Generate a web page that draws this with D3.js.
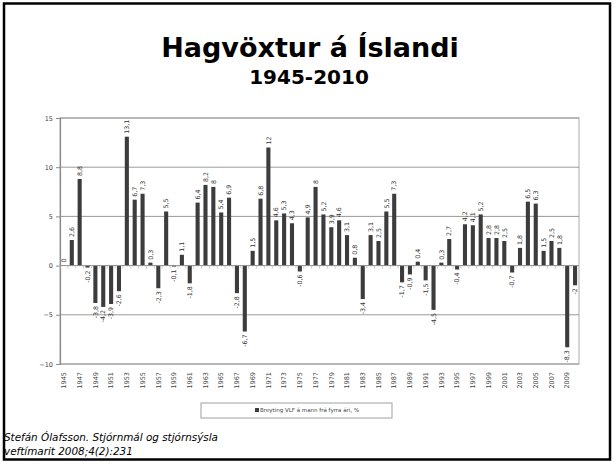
<!DOCTYPE html>
<html>
<head>
<meta charset="utf-8">
<script src="https://cdn.jsdelivr.net/npm/d3@7"></script>
<style>
  body { margin: 0; background: #fff; }
  svg { display: block; }
</style>
</head>
<body>
<svg id="chart" width="614" height="462"></svg>
<script>
const years = d3.range(1945, 2011);
const growth = [
  0, 2.6, 8.8, -0.2, -3.8, -4.2, -3.9, -2.6, 13.1, 6.7,
  7.3, 0.3, -2.3, 5.5, -0.1, 1.1, -1.8, 6.4, 8.2, 8,
  5.4, 6.9, -2.8, -6.7, 1.5, 6.8, 12, 4.6, 5.3, 4.3,
  -0.6, 4.9, 8, 5.2, 3.9, 4.6, 3.1, 0.8, -3.4, 3.1,
  2.5, 5.5, 7.3, -1.7, -0.9, 0.4, -1.5, -4.5, 0.3, 2.7,
  -0.4, 4.2, 4.1, 5.2, 2.8, 2.8, 2.5, -0.7, 1.8, 6.5,
  6.3, 1.5, 2.5, 1.8, -8.3, -2
];
const yTicks = [-10, -5, 0, 5, 10, 15];
const xTickYears = d3.range(1945, 2010, 2);
const title = "Hagvöxtur á Íslandi";
const subtitle = "1945-2010";
const legendText = "Breyting VLF á mann frá fyrra ári, %";
const sourceLines = ["Stefán Ólafsson. Stjórnmál og stjórnsýsla", "veftímarit 2008;4(2):231"];

const svg = d3.select("#chart");

// slide frame
svg.append("rect")
  .attr("x", 4).attr("y", 3.5)
  .attr("width", 606).attr("height", 456)
  .attr("fill", "none")
  .attr("stroke", "#000")
  .attr("stroke-width", 2.5);

svg.append("text")
  .attr("x", 310).attr("y", 57)
  .attr("text-anchor", "middle")
  .style("font-family", "DejaVu Sans")
  .style("font-weight", "bold")
  .style("font-size", "27px")
  .style("fill", "#000")
  .text(title);

svg.append("text")
  .attr("x", 309).attr("y", 84)
  .attr("text-anchor", "middle")
  .style("font-family", "DejaVu Sans")
  .style("font-weight", "bold")
  .style("font-size", "20px")
  .style("fill", "#000")
  .text(subtitle);

// plot area
const plotLeft = 60, plotRight = 579, plotTop = 118, plotBottom = 364;

const x = d3.scaleBand()
  .domain(years)
  .range([plotLeft, plotRight])
  .paddingInner(0.48)
  .paddingOuter(0.24);

const y = d3.scaleLinear()
  .domain([-10, 15])
  .range([plotBottom, plotTop]);

const fmt = v => String(v).replace(".", ",");

// plot border
svg.append("rect")
  .attr("x", plotLeft).attr("y", plotTop)
  .attr("width", plotRight - plotLeft).attr("height", plotBottom - plotTop)
  .attr("fill", "none")
  .attr("stroke", "#c8c8c8")
  .attr("stroke-width", 1.5);

// gridlines
svg.append("g")
  .selectAll("line")
  .data(yTicks.filter(t => t !== 0))
  .join("line")
  .attr("x1", plotLeft).attr("x2", plotRight)
  .attr("y1", d => y(d)).attr("y2", d => y(d))
  .attr("stroke", "#9a9a9a")
  .attr("stroke-width", 1);

// y axis
const yAxis = svg.append("g")
  .attr("transform", `translate(${plotLeft},0)`)
  .call(d3.axisLeft(y).tickValues(yTicks).tickSize(4).tickPadding(3));
yAxis.select(".domain").attr("stroke", "#8a8a8a").attr("stroke-width", 1.2);
yAxis.selectAll(".tick line").attr("stroke", "#8a8a8a");
yAxis.selectAll("text")
  .style("font-family", "DejaVu Sans")
  .style("font-size", "6.5px")
  .style("fill", "#444");

// bars
svg.append("g")
  .selectAll("rect")
  .data(years)
  .join("rect")
  .attr("x", (d) => x(d))
  .attr("width", x.bandwidth())
  .attr("y", (d, i) => y(Math.max(0, growth[i])))
  .attr("height", (d, i) => Math.abs(y(growth[i]) - y(0)))
  .attr("fill", "#3c3c3c");

// zero axis with category ticks
svg.append("line")
  .attr("x1", plotLeft).attr("x2", plotRight)
  .attr("y1", y(0)).attr("y2", y(0))
  .attr("stroke", "#8a8a8a")
  .attr("stroke-width", 1);

svg.append("g")
  .selectAll("line")
  .data(years)
  .join("line")
  .attr("x1", d => x(d) - x.step() * x.paddingInner() / 2)
  .attr("x2", d => x(d) - x.step() * x.paddingInner() / 2)
  .attr("y1", y(0)).attr("y2", y(0) + 3)
  .attr("stroke", "#c0c0c0")
  .attr("stroke-width", 0.8);

// data labels
svg.append("g")
  .selectAll("text")
  .data(years)
  .join("text")
  .attr("transform", (d, i) => {
    const v = growth[i];
    const cx = x(d) + x.bandwidth() / 2;
    const cy = v >= 0 ? y(v) - 3 : y(v) + 3;
    return `translate(${cx},${cy}) rotate(-90)`;
  })
  .attr("text-anchor", (d, i) => growth[i] >= 0 ? "start" : "end")
  .attr("dy", "0.35em")
  .style("font-family", "DejaVu Sans")
  .style("font-size", "6.3px")
  .style("fill", "#333")
  .text((d, i) => fmt(growth[i]));

// x tick labels
svg.append("g")
  .selectAll("text")
  .data(xTickYears)
  .join("text")
  .attr("transform", d => `translate(${x(d) + x.bandwidth() / 2},372) rotate(-90)`)
  .attr("text-anchor", "end")
  .attr("dy", "0.35em")
  .style("font-family", "DejaVu Sans")
  .style("font-size", "6.5px")
  .style("fill", "#444")
  .text(d => d);

// legend
const legend = svg.append("g").attr("transform", "translate(201,403)");
legend.append("rect")
  .attr("width", 191).attr("height", 15)
  .attr("fill", "#fff")
  .attr("stroke", "#a0a0a0")
  .attr("stroke-width", 1);
legend.append("rect")
  .attr("x", 54).attr("y", 5)
  .attr("width", 4).attr("height", 4)
  .attr("fill", "#3c3c3c");
legend.append("text")
  .attr("x", 59).attr("y", 7.5)
  .attr("dy", "0.35em")
  .style("font-family", "DejaVu Sans")
  .style("font-size", "5.5px")
  .style("fill", "#444")
  .text(legendText);

// source
svg.append("g")
  .selectAll("text")
  .data(sourceLines)
  .join("text")
  .attr("x", 4)
  .attr("y", (d, i) => 441 + i * 14)
  .style("font-family", "DejaVu Sans")
  .style("font-style", "italic")
  .style("font-size", "10.4px")
  .style("fill", "#000")
  .text(d => d);
</script>
</body>
</html>
